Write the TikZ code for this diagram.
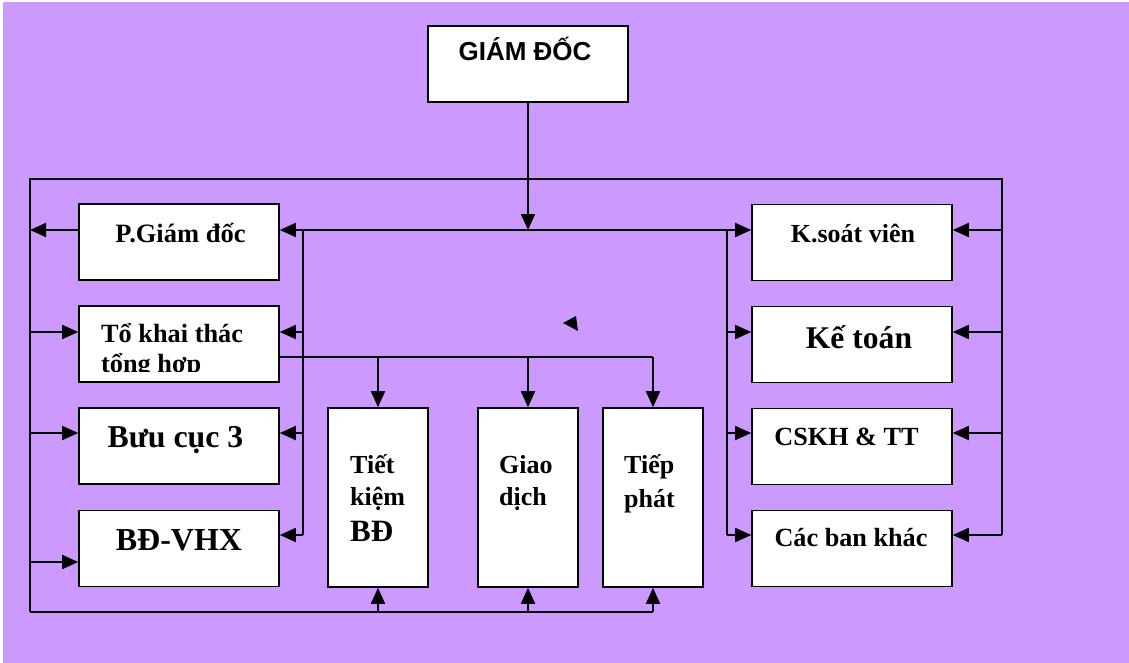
\documentclass[tikz,border=0pt]{standalone}
\usepackage{fontspec}
\setmainfont{Liberation Serif}
\newfontfamily\arialf{Liberation Sans}
\usetikzlibrary{arrows.meta}
\definecolor{bgpurple}{HTML}{CC99FF}
\tikzset{
  box/.style={draw=black, line width=1.6pt, fill=white, inner sep=0pt, minimum width=200pt, minimum height=76pt},
  tallbox/.style={box, minimum width=100pt, minimum height=179pt},
  wire/.style={line width=1.8pt, black},
  arr/.style={wire, -{Triangle[length=16pt,width=14pt]}},
  lbl/.style={inner sep=0pt, font=\bfseries},
}
\newcommand{\fs}[1]{\fontsize{#1}{#1}\selectfont}
\begin{document}
\begin{tikzpicture}[x=1pt,y=-1pt]
\useasboundingbox (0,0) rectangle (1129,663);
\fill[white] (0,0) rectangle (1129,663);
\fill[bgpurple] (3,2) rectangle (1129,663);

% boxes
\node[box] (gd) at (528,64) {};
\node[box] (pgd) at (179,242) {};
\node[box] (tkt) at (179,344) {};
\node[box] (bc3) at (179,446) {};
\node[box] (vhx) at (179,548.5) {};
\node[box] (ksv) at (852,242.5) {};
\node[box] (kt) at (852,344.5) {};
\node[box] (cskh) at (852,446.5) {};
\node[box] (cbk) at (852,548.5) {};
\node[tallbox] (tk) at (378,497.5) {};
\node[tallbox] (gdich) at (528,497.5) {};
\node[tallbox] (tp) at (653,497.5) {};

% junction coordinates
\coordinate (L1) at (303,230); \coordinate (L2) at (303,332);
\coordinate (L3) at (303,433); \coordinate (L4) at (303,535);
\coordinate (R1) at (727,230); \coordinate (R2) at (727,332);
\coordinate (R3) at (727,433); \coordinate (R4) at (727,535);
\coordinate (RR1) at (1002,230); \coordinate (RR2) at (1002,332);
\coordinate (RR3) at (1002,433); \coordinate (RR4) at (1002,535);
\coordinate (LL1) at (30,230); \coordinate (LL2) at (30,332);
\coordinate (LL3) at (30,433); \coordinate (LL4) at (30,562);
\coordinate (TL) at (30,179); \coordinate (TR) at (1002,179);
\coordinate (BL) at (30,612);
\coordinate (BUS) at (279,357);

% outer frame
\draw[wire] (BL) -- (TL) -- (TR) -- (RR4);
\draw[wire] (BL) -- (tp |- BL);
% director
\draw[arr] (gd.south) -- (gd.south |- L1);
% middle distribution line
\draw[arr] (L1) -- (L1 -| pgd.east);
\draw[arr] (L1) -- (L1 -| ksv.west);
\draw[wire] (L1) -- (L4);
\draw[wire] (R1) -- (R4);
\draw[arr] (L2) -- (L2 -| tkt.east);
\draw[arr] (L3) -- (L3 -| bc3.east);
\draw[arr] (L4) -- (L4 -| vhx.east);
\draw[arr] (R2) -- (R2 -| kt.west);
\draw[arr] (R3) -- (R3 -| cskh.west);
\draw[arr] (R4) -- (R4 -| cbk.west);
% right rail
\draw[arr] (RR1) -- (RR1 -| ksv.east);
\draw[arr] (RR2) -- (RR2 -| kt.east);
\draw[arr] (RR3) -- (RR3 -| cskh.east);
\draw[arr] (RR4) -- (RR4 -| cbk.east);
% left rail
\draw[arr] (LL1 -| pgd.west) -- (LL1);
\draw[arr] (LL2) -- (LL2 -| tkt.west);
\draw[arr] (LL3) -- (LL3 -| bc3.west);
\draw[arr] (LL4) -- (LL4 -| vhx.west);
% bus from To khai thac
\draw[wire] (BUS) -- (tp |- BUS);
\draw[arr] (tk |- BUS) -- (tk.north);
\draw[arr] (gdich |- BUS) -- (gdich.north);
\draw[arr] (tp |- BUS) -- (tp.north);
% bottom line arrows
\draw[arr] (tk |- BL) -- (tk.south);
\draw[arr] (gdich |- BL) -- (gdich.south);
\draw[arr] (tp |- BL) -- (tp.south);

% stray arrowhead
\fill[black] (563,323) -- (576,316) -- (578,331) -- cycle;

% texts
\node[inner sep=0pt, anchor=base, font=\arialf\bfseries\fs{26}] (tgd) at (525,61) {GIÁM ĐỐC};
\node[lbl, anchor=base, font=\bfseries\fs{26.5}] (tpgd) at (180.5,242) {P.Giám đốc};
\begin{scope}
\clip (80,300) rectangle (278,371);
\node[lbl, anchor=base west, font=\bfseries\fs{26.3}] (ttkt1) at (101,342) {Tổ khai thác};
\node[lbl, anchor=base west, font=\bfseries\fs{26.3}] (ttkt2) at (101,372) {tổng hơp};
\end{scope}
\node[lbl, anchor=base, font=\bfseries\fs{31.8}] (tbc3) at (175.5,447) {Bưu cục 3};
\node[lbl, anchor=base, font=\bfseries\fs{32}] (tvhx) at (179,550) {BĐ-VHX};
\node[lbl, anchor=base, font=\bfseries\fs{26}] (tksv) at (853,242) {K.soát viên};
\node[lbl, anchor=base, font=\bfseries\fs{31.6}] (tkt) at (859,348) {Kế toán};
\node[lbl, anchor=base, font=\bfseries\fs{26.2}] (tcskh) at (846.5,445) {CSKH \& TT};
\node[lbl, anchor=base, font=\bfseries\fs{26.2}] (tcbk) at (851,546) {Các ban khác};
\node[lbl, anchor=base west, font=\bfseries\fs{26}] (ttk1) at (350,473) {Tiết};
\node[lbl, anchor=base west, font=\bfseries\fs{26}] (ttk2) at (350,505) {kiệm};
\node[lbl, anchor=base west, font=\bfseries\fs{31}] (ttk3) at (350,541) {BĐ};
\node[lbl, anchor=base west, font=\bfseries\fs{26}] (tgdich1) at (499,473) {Giao};
\node[lbl, anchor=base west, font=\bfseries\fs{26}] (tgdich2) at (499,505) {dịch};
\node[lbl, anchor=base west, font=\bfseries\fs{26}] (ttp1) at (624,473) {Tiếp};
\node[lbl, anchor=base west, font=\bfseries\fs{26}] (ttp2) at (624,507) {phát};
\end{tikzpicture}
\end{document}
